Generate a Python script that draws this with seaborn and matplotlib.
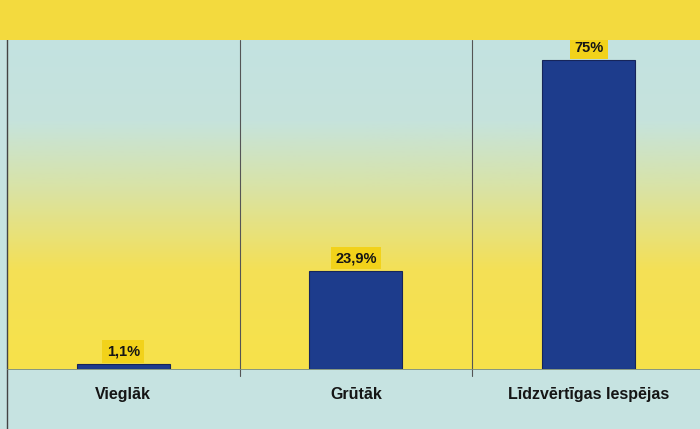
import numpy as np
import pandas as pd
import seaborn as sns
import matplotlib.pyplot as plt
from matplotlib.colors import LinearSegmentedColormap
from matplotlib.patches import Rectangle

categories = ['Vieglāk', 'Grūtāk', 'Līdzvērtīgas Iespējas']
values = [1.1, 23.9, 75.0]
value_labels = ['1,1%', '23,9%', '75%']

df = pd.DataFrame({'kategorija': categories, 'procenti': values})

sns.set_style('white')
plt.rcParams['font.family'] = ['Liberation Sans', 'DejaVu Sans']

fig = plt.figure(figsize=(7.0, 4.29), dpi=100)
fig.patch.set_facecolor('#c6e3e1')
# yellow band at the top
fig.patches.append(Rectangle((0, 0.907), 1, 0.093, transform=fig.transFigure,
                             facecolor='#f3da3e', edgecolor='none', zorder=0))

ax = fig.add_axes([0.01, 0.14, 0.997, 0.767])

# gradient background: light blue at top to yellow at bottom
grad = LinearSegmentedColormap.from_list(
    'bg', [(0.0, '#f7e24a'), (0.30, '#f4e056'), (0.55, '#d9e3a6'),
           (0.75, '#c6e3dc'), (1.0, '#c3e2e1')])
ax.imshow(np.linspace(0, 1, 256).reshape(-1, 1), cmap=grad, aspect='auto',
          origin='lower', extent=(-0.5, 2.5, 0, 80), zorder=0)

sns.barplot(data=df, x='kategorija', y='procenti', color='#1d3c8c',
            width=0.4, saturation=1, edgecolor='#16255a', linewidth=0.8,
            ax=ax, zorder=3)

ax.bar_label(ax.containers[0], labels=value_labels, padding=4,
             fontsize=10.5, fontweight='bold', color='#151515', zorder=4,
             bbox=dict(boxstyle='square,pad=0.3', facecolor='#f2d21a',
                       edgecolor='none'))

# left frame line runs the whole height
ax.axvline(-0.5, ymin=-0.2, ymax=1.13, color='#444444', linewidth=1.0,
           zorder=2, clip_on=False)
for x in [0.5, 1.5]:
    ax.axvline(x, ymin=-0.02, ymax=1, color='#555555', linewidth=0.8,
               zorder=2, clip_on=False)

ax.set_xlim(-0.5, 2.5)
ax.set_ylim(0, 80)
ax.set_yticks([])
ax.set_xlabel('')
ax.set_ylabel('')
ax.tick_params(axis='x', length=0, pad=13)
for lbl in ax.get_xticklabels():
    lbl.set_fontweight('bold')
    lbl.set_fontsize(11.5)
    lbl.set_color('#151515')
for side in ['top', 'right', 'left']:
    ax.spines[side].set_visible(False)
ax.spines['bottom'].set_color('#7a8a70')
ax.spines['bottom'].set_linewidth(0.6)

fig.savefig('out.png', dpi=100, facecolor=fig.get_facecolor())
